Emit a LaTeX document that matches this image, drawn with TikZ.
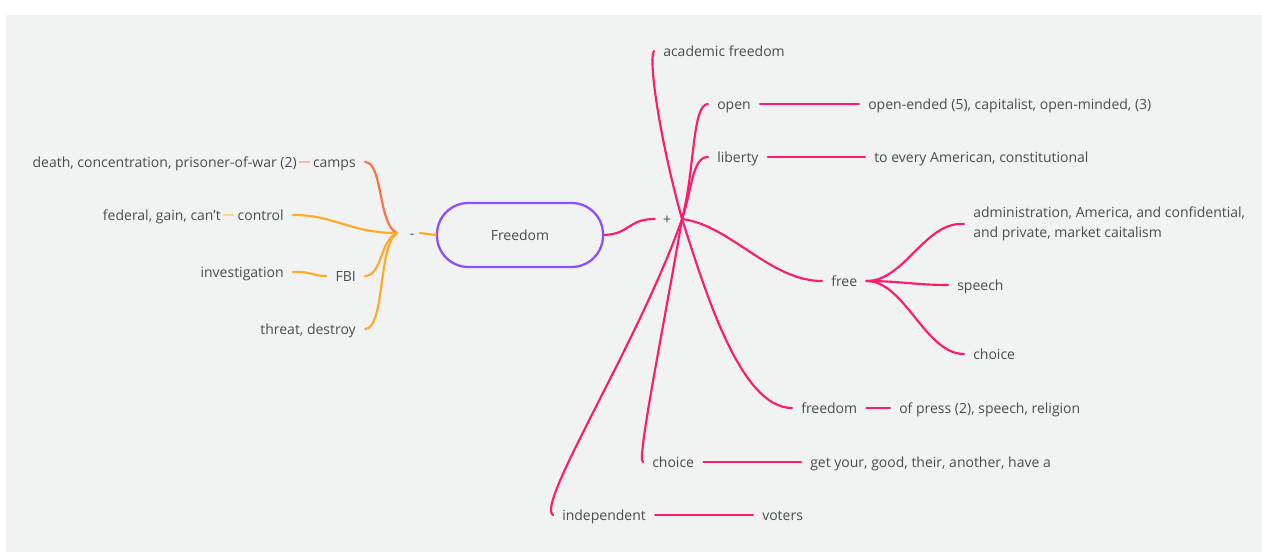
\documentclass[tikz,border=0pt]{standalone}
\usepackage{fontspec}
\setmainfont{Open Sans}
\definecolor{bg}{HTML}{F1F2F2}
\definecolor{txt}{HTML}{4A4C4E}
\definecolor{pinkl}{HTML}{FF1A6E}
\definecolor{orangel}{HTML}{FFAA22}
\definecolor{coral}{HTML}{FF6E47}
\definecolor{coralthin}{HTML}{FFB8A6}
\definecolor{orangethin}{HTML}{FFD68A}
\definecolor{violet}{HTML}{8A4FFF}
\begin{document}
\begin{tikzpicture}[x=0.75pt,y=-0.75pt,
  lbl/.style={text=txt,font=\fontsize{10.5}{15}\selectfont,inner xsep=6.75pt,inner ysep=1pt,text height=9.5pt,text depth=1.5pt},
  lr/.style={lbl,anchor=west},
  ll/.style={lbl,anchor=east},
  pk/.style={draw=pinkl,line width=1.6pt,line cap=round},
  og/.style={draw=orangel,line width=1.6pt,line cap=round},
  rootbox/.style={draw=violet,line width=1.7pt,rounded corners=23.5pt,minimum width=124.5pt,minimum height=48pt,text=txt,font=\fontsize{10.5}{15}\selectfont}
]
\useasboundingbox (0,0) rectangle (1262,552);
\fill[white] (0,0) rectangle (1262,552);
\fill[bg] (6,15) rectangle (1262,552);

% root
\node[rootbox] (root) at (520,235) {Freedom};
\node[lbl,inner xsep=4pt] (minus) at (412,233) {-};
\node[lbl,inner xsep=6pt] (plus) at (667,219) {+};
\coordinate (LH) at (397,233);
\coordinate (RH) at (682,219);

% left labels
\node[ll] (camps) at (365,162) {camps};
\node[ll,inner xsep=1.5pt] (death) at (299,162) {death, concentration, prisoner-of-war (2)};
\node[ll] (control) at (293,215) {control};
\node[ll,inner xsep=1.5pt] (federal) at (223,215) {federal, gain, can{\char39}t};
\node[ll] (fbi) at (365,276) {FBI};
\node[ll] (invest) at (293,272) {investigation};
\node[ll] (threat) at (365,329) {threat, destroy};

% right labels
\node[lr] (academic) at (654,51) {academic freedom};
\node[lr] (open) at (708,104) {open};
\node[lr] (openx) at (859,104) {open-ended (5), capitalist, open-minded, (3)};
\node[lr] (liberty) at (708,157) {liberty};
\node[lr] (libx) at (865,157) {to every American, constitutional};
\node[lr] (free) at (822,281) {free};
\node[lr,align=left,text height=,text depth=] (admin) at (964,224) {administration, America, and confidential,\\and private, market caitalism};
\node[lr] (speech) at (948,285) {speech};
\node[lr] (choicef) at (964,354) {choice};
\node[lr] (freedom) at (792,408) {freedom};
\node[lr] (press) at (890,408) {of press (2), speech, religion};
\node[lr] (choice) at (643,462) {choice};
\node[lr] (get) at (801,462) {get your, good, their, another, have a};
\node[lr] (indep) at (553,515) {independent};
\node[lr] (voters) at (753,515) {voters};

% root connectors
\draw[og] (minus.east) -- (root.west);
\draw[pk] (root.east) .. controls (630,234) and (628,219) .. (plus.west);

% left connectors
\draw[draw=coral,line width=1.6pt,line cap=round] (LH) .. controls (378,225) and (383,162) .. (camps.east);
\draw[og] (LH) .. controls (350,233) and (335,215) .. (control.east);
\draw[og] (LH) .. controls (380,240) and (382,276) .. (fbi.east);
\draw[og] (LH) .. controls (378,245) and (385,329) .. (threat.east);
\draw[og] (invest.east) .. controls (310,271) and (312,276) .. (fbi.west);
\draw[draw=coralthin,line width=0.8pt] (death.east) -- ([xshift=4.5pt]camps.west);
\draw[draw=orangethin,line width=0.8pt] (federal.east) -- ([xshift=4.5pt]control.west);

% right connectors
\draw[pk] (RH) .. controls (660,140) and (648,60) .. (academic.west);
\draw[pk] (RH) .. controls (695,170) and (692,104) .. (open.west);
\draw[pk] (RH) .. controls (692,190) and (692,157) .. (liberty.west);
\draw[pk] (RH) .. controls (730,225) and (770,281) .. (free.west);
\draw[pk] (RH) .. controls (705,290) and (740,408) .. (freedom.west);
\draw[pk] (RH) .. controls (665,320) and (636,462) .. (choice.west);
\draw[pk] (RH) .. controls (640,340) and (535,505) .. (indep.west);

\draw[pk] (open.east) -- (openx.west);
\draw[pk] (liberty.east) -- (libx.west);
\draw[pk] (freedom.east) -- (press.west);
\draw[pk] (choice.east) -- (get.west);
\draw[pk] (indep.east) -- (voters.west);

\draw[pk] (free.east) .. controls (905,281) and (925,221) .. (admin.west);
\draw[pk] (free.east) .. controls (900,281) and (915,285) .. (speech.west);
\draw[pk] (free.east) .. controls (905,281) and (925,354) .. (choicef.west);
\end{tikzpicture}
\end{document}
